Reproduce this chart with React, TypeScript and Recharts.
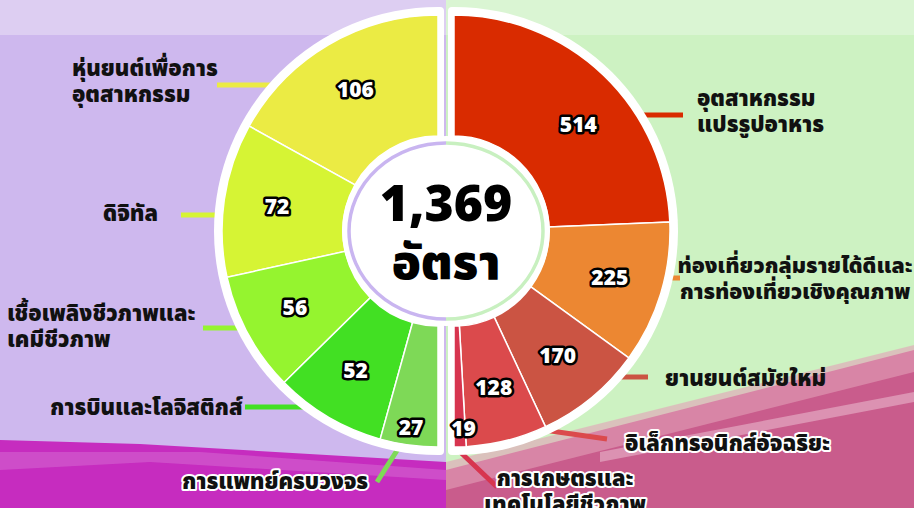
import { PieChart, Pie, Cell } from "recharts";

// ข้อมูล: ครึ่งขวา (อุตสาหกรรมเดิม) และครึ่งซ้าย (อุตสาหกรรมใหม่)
const RIGHT_NAMES = [
  "อุตสาหกรรม\nแปรรูปอาหาร",
  "ท่องเที่ยวกลุ่มรายได้ดีและ\nการท่องเที่ยวเชิงคุณภาพ",
  "ยานยนต์สมัยใหม่",
  "อิเล็กทรอนิกส์อัจฉริยะ",
  "การเกษตรและ\nเทคโนโลยีชีวภาพ",
];
const RIGHT_VALUES = [514, 225, 170, 128, 19];
const RIGHT_COLORS = ["#D92B00", "#EC8732", "#CB5443", "#DB4A4C", "#D7354F"];

const LEFT_NAMES = [
  "หุ่นยนต์เพื่อการ\nอุตสาหกรรม",
  "ดิจิทัล",
  "เชื้อเพลิงชีวภาพและ\nเคมีชีวภาพ",
  "การบินและโลจิสติกส์",
  "การแพทย์ครบวงจร",
];
const LEFT_VALUES = [106, 72, 56, 52, 27];
const LEFT_COLORS = ["#EBEB44", "#D6F434", "#95F42F", "#42E023", "#7ED957"];

const UNIT = "อัตรา";

// ตำแหน่งป้ายชื่อและเส้นชี้ (layout เท่านั้น)
type LabelPos = { x: number; y: number; anchor: "start" | "middle" | "end"; halo?: boolean; size?: number; line: number[][] };
const RIGHT_LABEL_POS: LabelPos[] = [
  { x: 697, y: 98, anchor: "start", line: [[610, 115], [683, 115]] },
  { x: 795, y: 265, anchor: "middle", size: 21.5, line: [[640, 278], [680, 278]] },
  { x: 665, y: 378, anchor: "start", line: [[600, 377], [648, 377]] },
  { x: 625, y: 443, anchor: "start", halo: true, line: [[530, 428], [607, 439]] },
  { x: 565, y: 478, anchor: "middle", halo: true, line: [[455, 420], [455, 447], [497, 487]] },
];
const LEFT_LABEL_POS: LabelPos[] = [
  { x: 72, y: 68, anchor: "start", line: [[217, 85], [295, 85]] },
  { x: 103, y: 213, anchor: "start", line: [[181, 215], [245, 215]] },
  { x: 7, y: 313, anchor: "start", line: [[203, 328], [255, 328]] },
  { x: 50, y: 407, anchor: "start", line: [[245, 407], [320, 407]] },
  { x: 182, y: 481, anchor: "start", halo: true, line: [[410, 430], [377, 482]] },
];

const FONT = "'Noto Sans Thai', 'Noto Sans Thai Looped', Kanit, Prompt, Loma, Garuda, 'Noto Sans', sans-serif";
const CY = 231;
const RAD = Math.PI / 180;

const rightData = RIGHT_NAMES.map((name, i) => ({ name, value: RIGHT_VALUES[i] }));
const leftData = LEFT_NAMES.map((name, i) => ({ name, value: LEFT_VALUES[i] }));
const total = [...RIGHT_VALUES, ...LEFT_VALUES].reduce((s, v) => s + v, 0);

function ValueLabel(props: any) {
  const { cx, cy, midAngle, innerRadius, outerRadius, value, percent } = props;
  const k = percent < 0.1 ? 0.86 : 0.56;
  const r = innerRadius + (outerRadius - innerRadius) * k;
  // ดันป้ายของชิ้นใหญ่มาก (>45%) ลงมาทางแนวนอนเล็กน้อย
  const a = percent > 0.45 ? midAngle - 6 : midAngle;
  const x = cx + r * Math.cos(-a * RAD) + (percent < 0.03 ? 4 : 0);
  const y = cy + r * Math.sin(-a * RAD);
  return (
    <text
      x={x}
      y={y}
      textAnchor="middle"
      dominantBaseline="central"
      fill="#fff"
      stroke="#000"
      strokeWidth={5}
      strokeLinejoin="round"
      paintOrder="stroke"
      fontSize={21}
      fontWeight={900}
      fontFamily={FONT}
    >
      {value}
    </text>
  );
}

function CategoryText({ name, pos }: { name: string; pos: LabelPos }) {
  const lines = name.split("\n");
  return (
    <text
      x={pos.x}
      y={pos.y}
      textAnchor={pos.anchor}
      fontSize={pos.size ?? 22}
      fontWeight={900}
      fontFamily={FONT}
      fill="#111"
      stroke={pos.halo ? "#fff" : "none"}
      strokeWidth={pos.halo ? 4 : 0}
      strokeLinejoin="round"
      paintOrder="stroke"
    >
      {lines.map((l, i) => (
        <tspan key={i} x={pos.x} dy={i === 0 ? "0.35em" : 26}>
          {l}
        </tspan>
      ))}
    </text>
  );
}

export default function App() {
  return (
    <div style={{ position: "absolute", left: 0, top: 0, width: 914, height: 508, overflow: "hidden" }}>
      {/* พื้นหลัง */}
      <svg width={914} height={508} style={{ position: "absolute", left: 0, top: 0 }}>
        <rect x={0} y={0} width={446} height={508} fill="#CEB8EE" />
        <rect x={0} y={0} width={446} height={35} fill="#DDCEF2" />
        <rect x={446} y={0} width={468} height={508} fill="#CDF2C2" />
        <rect x={446} y={0} width={468} height={35} fill="#DAF5D3" />
        <polygon points="0,440 140,444 446,462 446,508 0,508" fill="#C62CBF" />
        <polygon points="0,452 200,452 446,470 446,480 150,462 0,470" fill="#D66AD2" opacity={0.55} />
        <polygon points="446,470 914,350 914,508 446,508" fill="#C95C8C" />
        <polygon points="446,462 914,345 914,372 446,490" fill="#E2A0B8" opacity={0.6} />
        <polygon points="600,452 914,392 914,402 600,462" fill="#F0C8D8" opacity={0.5} />
        {[...RIGHT_LABEL_POS.map((p, i) => ({ p, c: RIGHT_COLORS[i] })), ...LEFT_LABEL_POS.map((p, i) => ({ p, c: LEFT_COLORS[i] }))].map(
          ({ p, c }, i) => (
            <polyline
              key={i}
              points={p.line.map((pt) => pt.join(",")).join(" ")}
              fill="none"
              stroke={c}
              strokeWidth={5}
            />
          )
        )}
        <path d="M 438 7 L 440 7 Q 444 7 444 11 L 444 451 Q 444 455 440 455 L 438 455 A 224 224 0 0 1 438 7 Z" fill="#fff" />
        <path d="M 454 7 L 452 7 Q 448 7 448 11 L 448 451 Q 448 455 452 455 L 454 455 A 224 224 0 0 0 454 7 Z" fill="#fff" />
      </svg>

      <PieChart width={914} height={508} style={{ position: "absolute", left: 0, top: 0 }} margin={{ top: 0, right: 0, bottom: 0, left: 0 }}>
        <Pie
          data={rightData}
          dataKey="value"
          cx={454}
          cy={CY}
          innerRadius={95}
          outerRadius={216}
          startAngle={90}
          endAngle={-90}
          stroke="#fff"
          strokeWidth={1.5}
          label={ValueLabel}
          labelLine={false}
          isAnimationActive={false}
        >
          {rightData.map((d, i) => (
            <Cell key={d.name} fill={RIGHT_COLORS[i]} />
          ))}
        </Pie>
        <Pie
          data={leftData}
          dataKey="value"
          cx={438}
          cy={CY}
          innerRadius={95}
          outerRadius={216}
          startAngle={90}
          endAngle={270}
          stroke="#fff"
          strokeWidth={1.5}
          label={ValueLabel}
          labelLine={false}
          isAnimationActive={false}
        >
          {leftData.map((d, i) => (
            <Cell key={d.name} fill={LEFT_COLORS[i]} />
          ))}
        </Pie>
      </PieChart>

      {/* วงกลมกลางและข้อความ */}
      <svg width={914} height={508} style={{ position: "absolute", left: 0, top: 0, pointerEvents: "none" }}>
        <ellipse cx={446} cy={CY} rx={104} ry={95} fill="#fff" />
        <path d={`M 446 ${CY - 88} A 97 88 0 0 0 446 ${CY + 88}`} fill="none" stroke="#C9B5F0" strokeWidth={3.5} />
        <path d={`M 446 ${CY - 88} A 97 88 0 0 1 446 ${CY + 88}`} fill="none" stroke="#C8F0C0" strokeWidth={3.5} />
        <text x={446} y={206} textAnchor="middle" dominantBaseline="central" fontSize={50} fontWeight={900} fontFamily={FONT} fill="#000">
          {total.toLocaleString("en-US")}
        </text>
        <text x={446} y={264} textAnchor="middle" dominantBaseline="central" fontSize={48} fontWeight={900} fontFamily={FONT} fill="#000">
          {UNIT}
        </text>
        {RIGHT_NAMES.map((n, i) => (
          <CategoryText key={n} name={n} pos={RIGHT_LABEL_POS[i]} />
        ))}
        {LEFT_NAMES.map((n, i) => (
          <CategoryText key={n} name={n} pos={LEFT_LABEL_POS[i]} />
        ))}
      </svg>
    </div>
  );
}
